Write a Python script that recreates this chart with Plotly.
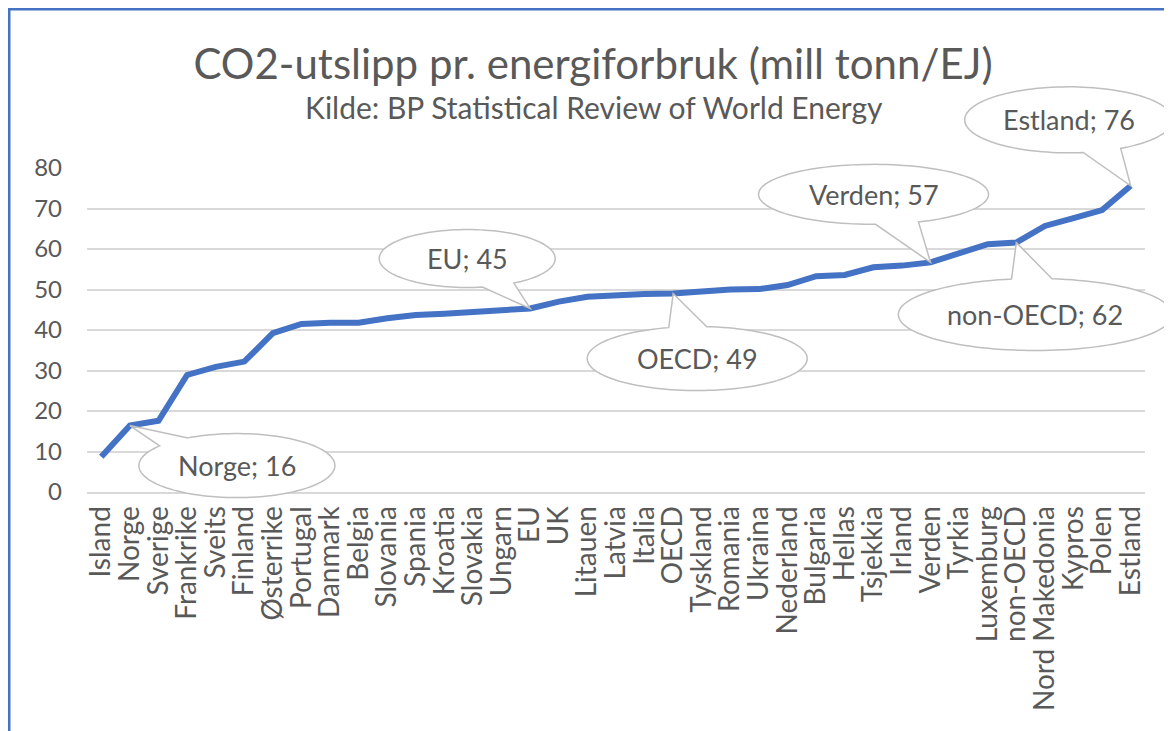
import numpy as np
import plotly.graph_objects as go

# ---------------- data ----------------
categories = ["Island", "Norge", "Sverige", "Frankrike", "Sveits", "Finland", "Østerrike",
              "Portugal", "Danmark", "Belgia", "Slovania", "Spania", "Kroatia", "Slovakia",
              "Ungarn", "EU", "UK", "Litauen", "Latvia", "Italia", "OECD", "Tyskland",
              "Romania", "Ukraina", "Nederland", "Bulgaria", "Hellas", "Tsjekkia", "Irland",
              "Verden", "Tyrkia", "Luxemburg", "non-OECD", "Nord Makedonia", "Kypros",
              "Polen", "Estland"]
values = [8.7, 16.4, 17.6, 28.9, 30.9, 32.2, 39.2, 41.5, 41.8, 41.8,
          42.9, 43.7, 44.0, 44.6, 44.9, 45.3, 47.0, 48.2, 48.6, 48.9,
          49.0, 49.6, 50.0, 50.1, 51.1, 53.3, 53.6, 55.5, 55.9, 56.7,
          58.9, 61.2, 61.6, 65.7, 67.6, 69.6, 75.6]
callout_names = ["Norge", "EU", "OECD", "Verden", "non-OECD", "Estland"]
y_ticks = [0, 10, 20, 30, 40, 50, 60, 70, 80]

title_text = "CO2-utslipp pr. energiforbruk (mill tonn/EJ)"
subtitle_text = "Kilde: BP Statistical Review of World Energy"

# ---------------- layout geometry ----------------
PAGE = 8                      # default body margin of the html page
W, H = 1172 - PAGE, 731 - PAGE
ML = 87 - PAGE
MT = 168 - PAGE
MB = H - (492 - PAGE)
MR = W - (1145 - PAGE)
PW, PH = W - ML - MR, H - MT - MB
x_range = [-0.5, len(categories) - 0.5]
y_range = [0, 80]

FONT = "Lato, 'Open Sans', sans-serif"
GRAY_TXT = "#595959"
BLUE = "#4472C4"


def px_to_paper(px, py):
    """page pixel -> paper coordinate"""
    return (px - PAGE - ML) / PW, (H - MB - (py - PAGE)) / PH


def data_to_paper(i, v):
    return ((i - x_range[0]) / (x_range[1] - x_range[0]),
            (v - y_range[0]) / (y_range[1] - y_range[0]))


# callout geometry (pixel offsets of ellipse centre from the tip, y down),
# radii and the two ellipse angles where the pointer wedge attaches
callout_geom = {
    "Norge":    (107, 40, 98, 32, -142, -120),
    "EU":       (-63, -50, 88, 29, 58, 80),
    "OECD":     (24, 65, 110, 32, -105, -85),
    "Verden":   (-57, -68, 115, 30, 67, 89),
    "non-OECD": (19, 72, 137, 36, -100, -83),
    "Estland":  (-62, -66, 104, 33, 60, 82),
}

fig = go.Figure()
fig.add_trace(go.Scatter(
    x=categories, y=values, mode="lines",
    line=dict(color=BLUE, width=6),
    hoverinfo="x+y", showlegend=False, cliponaxis=False,
))

shapes = []
annotations = []

for name in callout_names:
    i = categories.index(name)
    v = values[i]
    xp, yp = data_to_paper(i, v)
    dx, dy, rx, ry, t1, t2 = callout_geom[name]
    ts = np.radians(np.linspace(t2, t1 + 360, 120))
    pts = [(dx + rx * np.cos(t), dy + ry * np.sin(t)) for t in ts]
    path = "M " + " L ".join(f"{x:.2f},{-y:.2f}" for x, y in pts) + " L 0,0 Z"
    shapes.append(dict(
        type="path", path=path, xref="paper", yref="paper",
        xsizemode="pixel", ysizemode="pixel", xanchor=xp, yanchor=yp,
        fillcolor="white", line=dict(color="#BFBFBF", width=1.5), layer="above",
    ))
    annotations.append(dict(
        x=xp, y=yp, xref="paper", yref="paper", xshift=dx, yshift=-dy,
        text=f"{name}; {round(v)}", showarrow=False,
        font=dict(family=FONT, size=27, color=GRAY_TXT),
        xanchor="center", yanchor="middle",
    ))

# blue frame on left and top
lx0, ly0 = px_to_paper(PAGE + 1, PAGE + 1)
lx1, ly1 = px_to_paper(PAGE + 1, 731 + 5)
tx1, _ = px_to_paper(1172 + 5, PAGE + 1)
shapes.append(dict(type="line", xref="paper", yref="paper", x0=lx0, y0=ly0, x1=lx1, y1=ly1,
                   line=dict(color=BLUE, width=3), layer="above"))
shapes.append(dict(type="line", xref="paper", yref="paper", x0=lx0 - 0.002, y0=ly0, x1=tx1, y1=ly0,
                   line=dict(color=BLUE, width=3), layer="above"))

sx, sy = px_to_paper(594, 107)
annotations.append(dict(
    x=sx, y=sy, xref="paper", yref="paper", text=subtitle_text, showarrow=False,
    font=dict(family=FONT, size=30, color=GRAY_TXT), xanchor="center", yanchor="middle",
))

fig.update_layout(
    width=W, height=H,
    margin=dict(l=ML, r=MR, t=MT, b=MB, autoexpand=False),
    paper_bgcolor="white", plot_bgcolor="white",
    title=dict(text=title_text, x=(593 - PAGE) / W, xref="container", xanchor="center",
               y=1 - (64 - PAGE) / H, yref="container", yanchor="middle",
               font=dict(family=FONT, size=42, color=GRAY_TXT)),
    xaxis=dict(type="category", range=x_range, showgrid=False, showline=True,
               linecolor="#D9D9D9", linewidth=2, ticks="", tickangle=-90,
               tickmode="array", tickvals=categories, ticktext=categories,
               tickfont=dict(family=FONT, size=28, color=GRAY_TXT),
               ticklabelstandoff=1, fixedrange=True),
    yaxis=dict(range=y_range, tickvals=y_ticks, showgrid=True, gridcolor="#D9D9D9",
               gridwidth=2, zeroline=False, showline=False, ticks="",
               tickfont=dict(family=FONT, size=24, color=GRAY_TXT),
               ticklabelstandoff=24, fixedrange=True),
    shapes=shapes, annotations=annotations,
)

fig.write_html("out.html")
